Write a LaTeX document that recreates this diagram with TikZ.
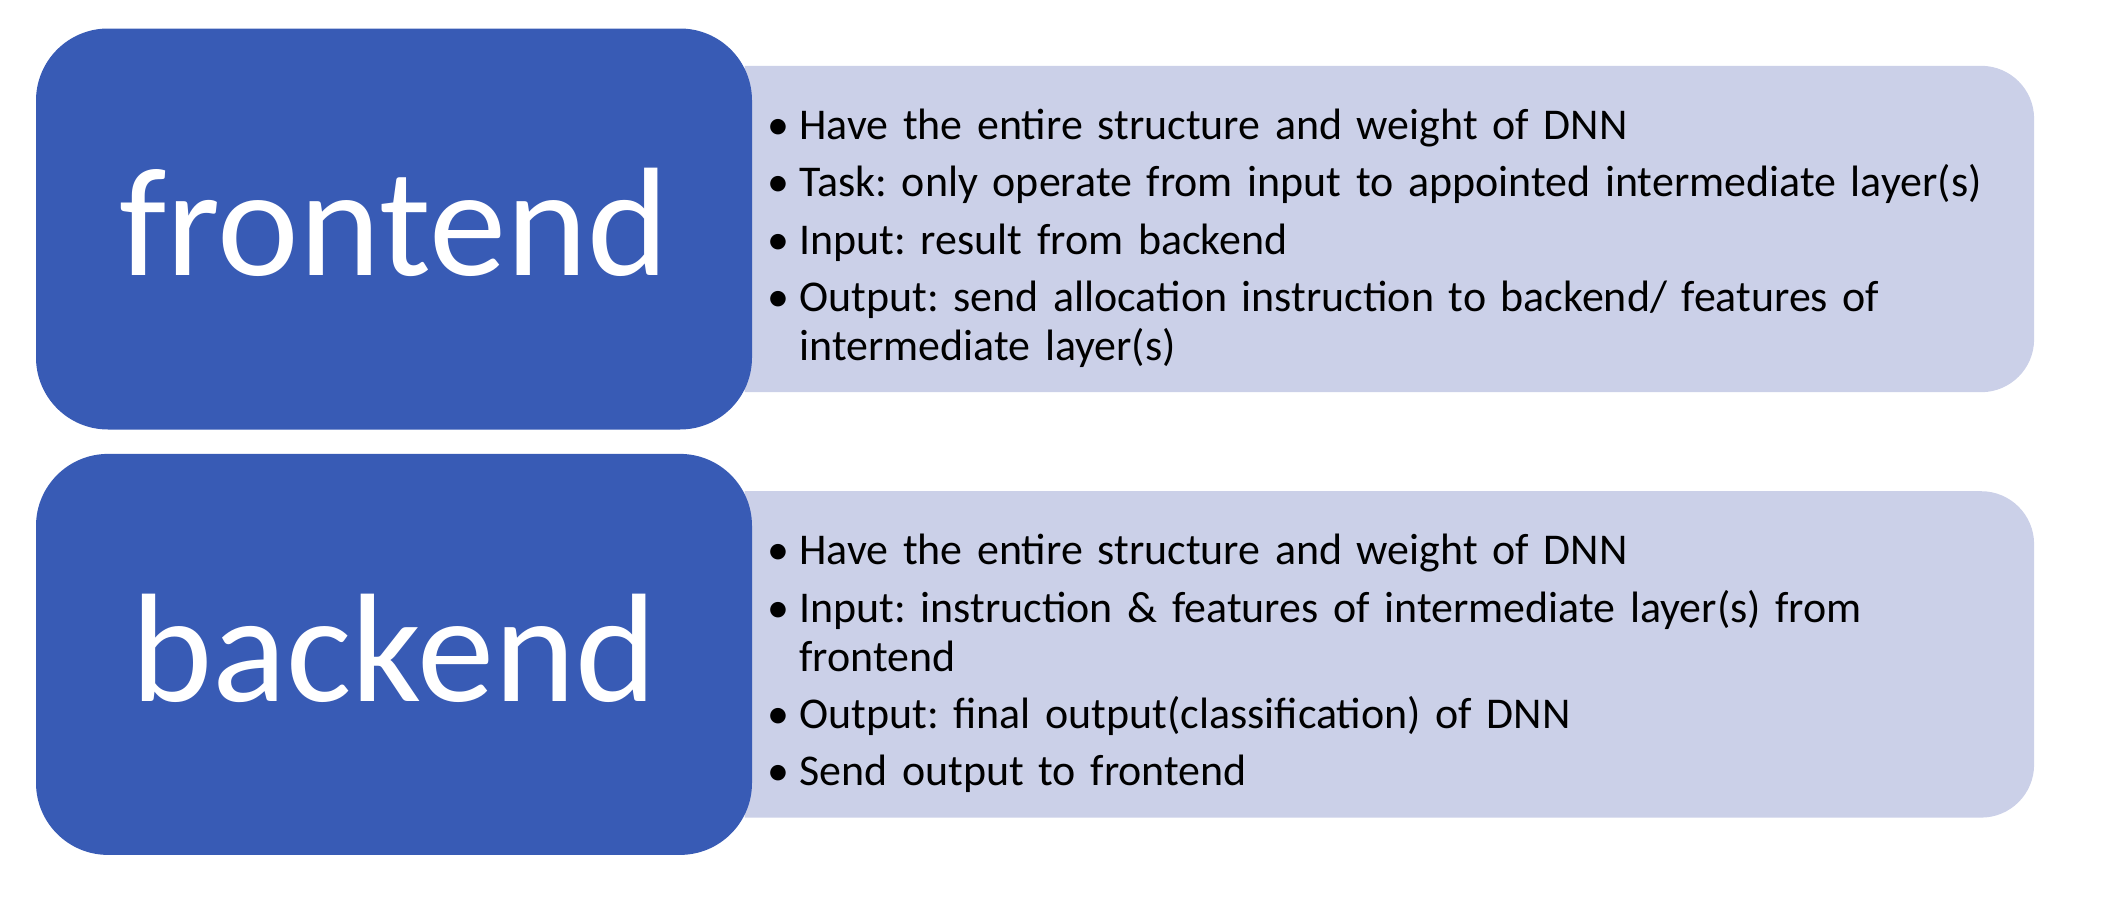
\documentclass[tikz,border=0pt]{standalone}
\usepackage{fontspec}
\setmainfont{Carlito}
\usepackage{enumitem}
\usetikzlibrary{positioning,backgrounds}
\frenchspacing

\definecolor{roleblue}{RGB}{56,91,181}
\definecolor{descfill}{RGB}{203,208,232}

\tikzset{
  role/.style={rectangle, fill=roleblue, text=white, rounded corners=0.72cm,
    minimum width=7.16cm, minimum height=4.01cm, text depth=0.14cm,
    font=\fontsize{44}{50}\selectfont},
  descbox/.style={rectangle, minimum width=12.88cm, minimum height=3.25cm},
  desctext/.style={text width=12.6cm, align=left, inner sep=0pt,
    font=\fontsize{12.5}{13.9}\selectfont}
}
\newcommand{\desclist}[1]{%
  \begin{itemize}[leftmargin=0.38cm, labelsep=0.1cm, topsep=0pt, partopsep=0pt,
    itemsep=2.4pt, parsep=0pt, label=\textbullet]#1\end{itemize}}
% light box, square on the left, rounded on the right
\newcommand{\descshape}[1]{%
  \fill[descfill] (#1.north west) -- ([xshift=-0.53cm]#1.north east)
    arc[start angle=90, end angle=0, radius=0.53cm] -- ([yshift=0.53cm]#1.south east)
    arc[start angle=0, end angle=-90, radius=0.53cm] -- (#1.south west) -- cycle;}

\begin{document}
\begin{tikzpicture}
    \useasboundingbox (0,0) rectangle (21.24,9.14);
    % Nodes
    \node (fe) [role] at (3.94,6.85) {frontend};
    \node (be) [role, below=0.23cm of fe] {backend};

    \begin{scope}[on background layer]
        \node (fedesc) [descbox, right=-0.08cm of fe] {};
        \descshape{fedesc}
        \node (bedesc) [descbox, right=-0.08cm of be] {};
        \descshape{bedesc}
    \end{scope}

    % Text
    \node (fetext) [desctext, anchor=west] at ([xshift=0.16cm]fedesc.west) {\desclist{
        \item Have the entire structure and weight of DNN
        \item Task: only operate from input to appointed intermediate layer(s)
        \item Input: result from backend
        \item Output: send allocation instruction to backend/ features of\newline intermediate layer(s)}};
    \node (betext) [desctext, anchor=west] at ([xshift=0.16cm]bedesc.west) {\desclist{
        \item Have the entire structure and weight of DNN
        \item Input: instruction \& features of intermediate layer(s) from\newline frontend
        \item Output: final output(classification) of DNN
        \item Send output to frontend}};
\end{tikzpicture}
\end{document}
